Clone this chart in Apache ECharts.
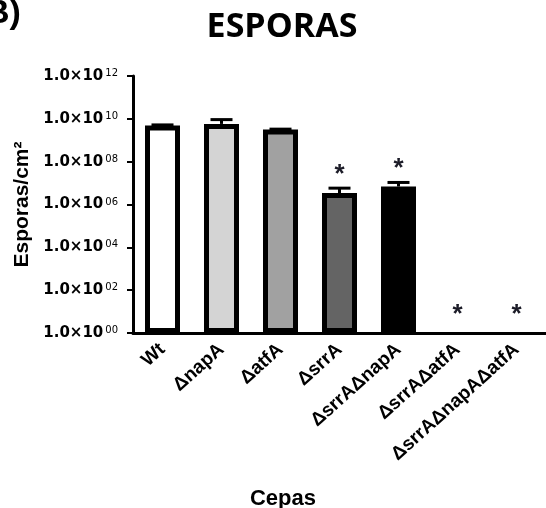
<!DOCTYPE html>
<html>
<head>
<meta charset="utf-8">
<script src="https://cdn.jsdelivr.net/npm/echarts@6/dist/echarts.min.js"></script>
<style>
  html, body { margin: 0; padding: 0; background: #fff; }
  #chart { width: 546px; height: 508px; }
</style>
</head>
<body>
<div id="chart"></div>
<script>
// Spore counts per strain (spores/cm²), log scale
const strains = ['Wt', 'ΔnapA', 'ΔatfA', 'ΔsrrA', 'ΔsrrAΔnapA', 'ΔsrrAΔatfA', 'ΔsrrAΔnapAΔatfA'];
const spores = [4.9e9, 5.8e9, 3.2e9, 3.4e6, 6.9e6, 1, 1];      // 1 = nothing detected (axis floor)
const sporesErr = [0.3e9, 3.4e9, 0.1e9, 2.4e6, 3.8e6, 0, 0];   // upper error
const significant = [false, false, false, true, true, true, true];
const barColors = ['#ffffff', '#d4d4d4', '#a1a1a1', '#646464', '#000000', '#ffffff', '#ffffff'];
const yTickExponents = ['00', '02', '04', '06', '08', '10', '12'];

const chart = echarts.init(document.getElementById('chart'));

const barData = spores.map((v, i) => ({
  value: v,
  itemStyle: { color: barColors[i], borderWidth: v > 1 ? 5 : 0 },
  label: { show: significant[i] }
}));

chart.setOption({
  animation: false,
  backgroundColor: '#ffffff',
  title: [
    {
      text: 'ESPORAS',
      left: 277, top: 5, textAlign: 'center',
      textStyle: { fontFamily: 'Open Sans', fontWeight: 'bold', fontSize: 34, color: '#000' }
    },
    {
      text: 'Cepas',
      left: 278, top: 483, textAlign: 'center',
      textStyle: { fontFamily: 'Liberation Sans', fontWeight: 'bold', fontSize: 22, color: '#000' }
    }
  ],
  graphic: [{
    type: 'text', left: -15, top: -3,
    style: { text: 'B)', font: 'bold 34px "Liberation Sans"', fill: '#000' }
  }],
  grid: { left: 133, right: 0, top: 76, bottom: 175, outerBoundsMode: 'none', containLabel: false },
  xAxis: {
    type: 'category',
    data: strains,
    axisLine: { lineStyle: { color: '#000', width: 3 } },
    axisTick: { alignWithLabel: true, length: 9, lineStyle: { color: '#000', width: 2 } },
    axisLabel: {
      rotate: 42, margin: 14, interval: 0,
      fontFamily: 'Liberation Sans', fontWeight: 'bold', fontSize: 19, color: '#000'
    }
  },
  yAxis: {
    type: 'log',
    logBase: 10,
    min: 1, max: 1e12,
    interval: 2,
    splitNumber: 6,
    splitLine: { show: false },
    axisLine: { show: true, lineStyle: { color: '#000', width: 3 } },
    axisTick: { show: true, length: 6, lineStyle: { color: '#000', width: 2 } },
    axisLabel: {
      margin: 15,
      formatter: v => {
        const e = Math.round(Math.log10(v));
        const idx = yTickExponents.indexOf(String(e).padStart(2, '0'));
        return '{a|1.0×10}{b|' + (idx >= 0 ? yTickExponents[idx] : e) + '}';
      },
      rich: {
        a: { fontFamily: 'DejaVu Sans', fontWeight: 'bold', fontSize: 15, color: '#000', verticalAlign: 'bottom' },
        b: { fontFamily: 'DejaVu Sans', fontSize: 10, color: '#000', verticalAlign: 'top', padding: [0, 0, 0, 2] }
      }
    },
    name: 'Esporas/cm²',
    nameLocation: 'middle',
    nameGap: 100,
    nameTextStyle: { fontFamily: 'Liberation Sans', fontWeight: 'bold', fontSize: 21, color: '#000' }
  },
  series: [
    {
      type: 'bar',
      data: barData,
      barWidth: 35,
      itemStyle: { borderColor: '#000' },
      label: {
        position: 'top', distance: 5, formatter: '*',
        fontFamily: 'Liberation Sans', fontWeight: 'bold', fontSize: 26, color: '#1c1c28'
      },
      z: 2
    },
    {
      type: 'custom',
      z: 3,
      data: spores.map((v, i) => [i, v, sporesErr[i]]),
      renderItem: (params, api) => {
        const err = api.value(2);
        if (!err) return null;
        const base = api.coord([api.value(0), api.value(1)]);
        const top = api.coord([api.value(0), api.value(1) + err]);
        const half = 11;
        return {
          type: 'group',
          children: [
            { type: 'line', shape: { x1: base[0], y1: base[1], x2: top[0], y2: top[1] }, style: { stroke: '#000', lineWidth: 3 } },
            { type: 'line', shape: { x1: top[0] - half, y1: top[1], x2: top[0] + half, y2: top[1] }, style: { stroke: '#000', lineWidth: 3 } }
          ]
        };
      }
    }
  ]
});
</script>
</body>
</html>
